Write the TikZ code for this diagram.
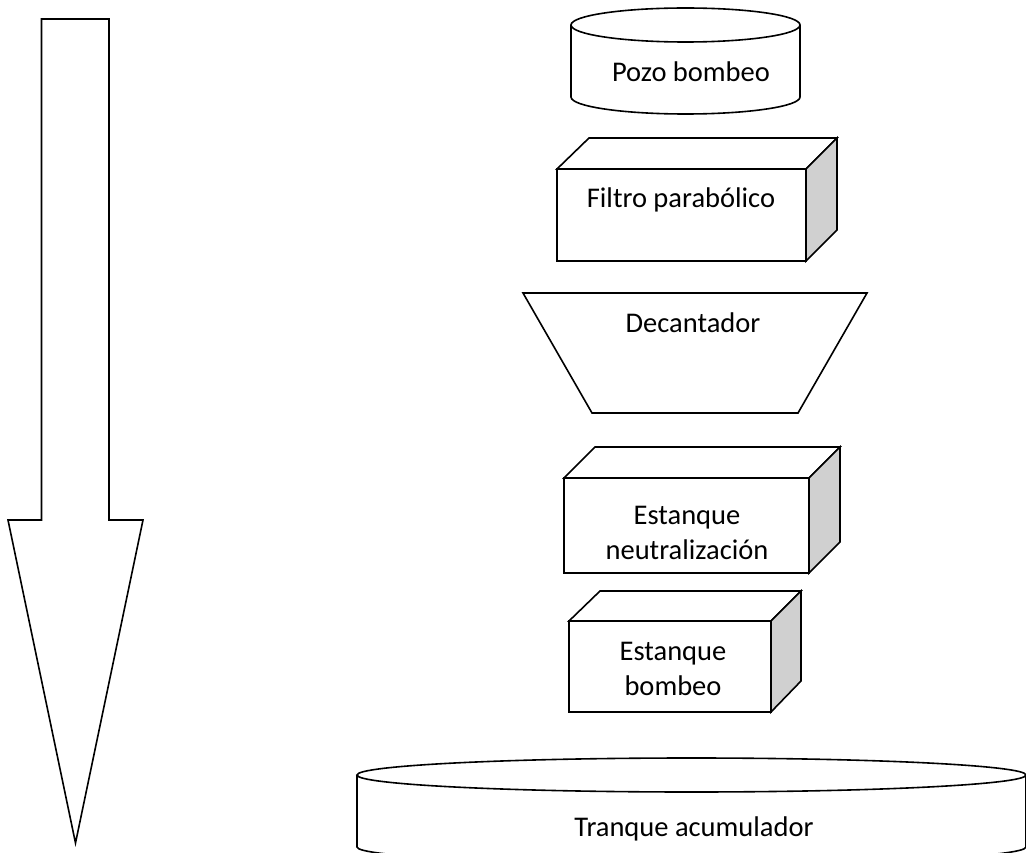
\documentclass[tikz,border=0pt]{standalone}
\usepackage{fontspec}
\setmainfont{Carlito}
\definecolor{sidegray}{RGB}{208,208,208}
\tikzset{
  outline/.style={draw=black, line width=1.6pt, line join=miter},
  sideface/.style={outline, fill=sidegray},
  lbl/.style={font=\fontsize{28.5}{35}\selectfont, align=center, anchor=base, inner sep=0pt}
}
\begin{document}
\begin{tikzpicture}[x=1pt,y=-1pt]
\useasboundingbox (0,0) rectangle (1026,853);
\fill[white] (0,0) rectangle (1026,853);
\clip (0,0) rectangle (1026,853);
% big arrow
\draw[outline] (41.5,19) -- (109,19) -- (109,520) -- (143,520) -- (75.5,843) -- (8,520) -- (41.5,520) -- cycle;
% Pozo bombeo cylinder
\draw[outline] (571,25) -- (571,97) arc[start angle=180, end angle=360, x radius=114.5pt, y radius=17pt] -- (800,25);
\draw[outline] (685.5,25) ellipse [x radius=114.5pt, y radius=17pt];
\node[lbl] (pozo) at (691,82) {Pozo bombeo};
% Filtro parabolico cube
\draw[outline] (557,169) rectangle (806,261);
\draw[outline] (557,169) -- (589,138) -- (837,138) -- (806,169) -- cycle;
\draw[sideface] (806,169) -- (837,138) -- (837,230) -- (806,261) -- cycle;
\node[lbl] (filtro) at (681,208) {Filtro parabólico};
% Decantador
\draw[outline] (523,293) -- (867,293) -- (798,413) -- (592,413) -- cycle;
\node[lbl] (decant) at (693,332) {Decantador};
% Estanque neutralizacion
\draw[outline] (564,478) rectangle (809,573);
\draw[outline] (564,478) -- (595,447) -- (840,447) -- (809,478) -- cycle;
\draw[sideface] (809,478) -- (840,447) -- (840,542) -- (809,573) -- cycle;
\node[lbl] (neutral) at (687,559) {Estanque\\neutralización};
% Estanque bombeo
\draw[outline] (569,621) rectangle (771,712);
\draw[outline] (569,621) -- (600,591) -- (801,591) -- (771,621) -- cycle;
\draw[sideface] (771,621) -- (801,591) -- (801,681) -- (771,712) -- cycle;
\node[lbl] (ebombeo) at (673,695) {Estanque\\bombeo};
% Tranque acumulador
\draw[outline] (357,775) -- (357,847) arc[start angle=180, end angle=360, x radius=334.5pt, y radius=17pt] -- (1026,775);
\draw[outline] (691.5,775) ellipse [x radius=334.5pt, y radius=17pt];
\node[lbl] (tranque) at (694,836) {Tranque acumulador};
\end{tikzpicture}
\end{document}
